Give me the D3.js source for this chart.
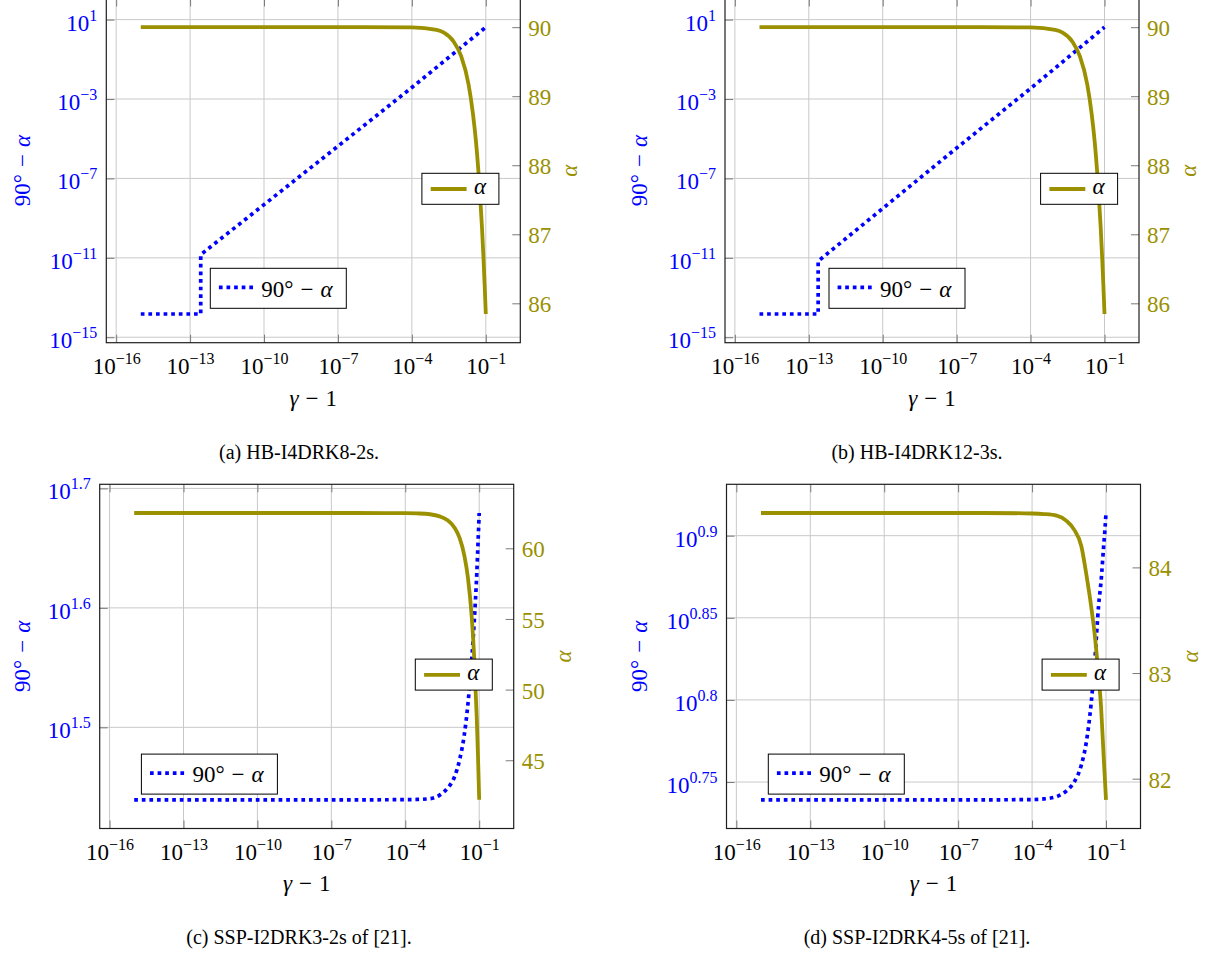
<!DOCTYPE html>
<html>
<head>
<meta charset="utf-8">
<script src="https://cdn.jsdelivr.net/npm/d3@7"></script>
<style>
  body { margin: 0; background: #fff; }
  svg, svg text { font-family: "Liberation Serif", "Times New Roman", serif; }
</style>
</head>
<body>
<svg id="fig" width="1215" height="956"></svg>
<script>
// ---- data -------------------------------------------------------------
// gamma - 1 sample points for the alpha curves of the HB schemes
const gammaAB = [1e-15, 1e-6, 1e-4, 1e-3, 2e-3, 5e-3, 1e-2, 2e-2, 3e-2, 4e-2, 5e-2, 6e-2, 7e-2, 8e-2, 9e-2, 1e-1];
const alphaA  = [90, 90, 89.996, 89.96, 89.92, 89.79, 89.58, 89.17, 88.75, 88.34, 87.92, 87.5, 87.1, 86.68, 86.26, 85.845];
const alphaB  = [90, 90, 89.996, 89.96, 89.92, 89.79, 89.58, 89.17, 88.75, 88.34, 87.92, 87.5, 87.1, 86.68, 86.26, 85.845];

// 90° - alpha for the HB schemes (round-off floor, then a jump)
const devGammaA = [1e-15, 2.7e-13, 2.7e-13, 1e-7, 1e-4, 1e-1];
const devA      = [1.48e-14, 1.48e-14, 1.45e-11, 4.2e-6, 3.8e-3, 4.155];
const devGammaB = [1e-15, 2.4e-13, 2.4e-13, 1e-7, 1e-4, 1e-1];
const devB      = [1.48e-14, 1.48e-14, 6.8e-12, 3.4e-6, 3.4e-3, 4.155];

// gamma - 1 sample points for the SSP schemes
const gammaCD = [1e-15, 1e-6, 1e-4, 3e-4, 1e-3, 2.5e-3, 5e-3, 1e-2, 1.6e-2, 2.5e-2, 3.5e-2, 5e-2, 6.3e-2, 8e-2, 9e-2, 1e-1];
const alphaC  = [62.5, 62.5, 62.49, 62.47, 62.41, 62.26, 62.01, 61.46, 60.73, 59.49, 57.9, 55.1, 52.2, 47.9, 45.1, 42.2];
const devC    = [27.5, 27.5, 27.51, 27.52, 27.56, 27.75, 28.1, 28.75, 29.7, 31.2, 33.1, 36.1, 38.8, 42.6, 45.2, 47.8];
const alphaD  = [84.515, 84.515, 84.51, 84.505, 84.49, 84.44, 84.36, 84.2, 83.93, 83.63, 83.36, 82.97, 82.68, 82.22, 82.0, 81.8];
const devD    = [5.485, 5.485, 5.487, 5.492, 5.51, 5.555, 5.62, 5.76, 5.95, 6.28, 6.66, 7.2, 7.45, 7.82, 8.0, 8.2];

// tick labels
const xTickExps      = ["−16", "−13", "−10", "−7", "−4", "−1"];
const leftTickExpsAB = ["1", "−3", "−7", "−11", "−15"];
const leftTickExpsC  = ["1.5", "1.6", "1.7"];
const leftTickExpsD  = ["0.75", "0.8", "0.85", "0.9"];
const rightTicksAB   = [86, 87, 88, 89, 90];
const rightTicksC    = [45, 50, 55, 60];
const rightTicksD    = [82, 83, 84];

const captions = ["(a) HB-I4DRK8-2s.", "(b) HB-I4DRK12-3s.", "(c) SSP-I2DRK3-2s of [21].", "(d) SSP-I2DRK4-5s of [21]."];

// ---- styling ----------------------------------------------------------
const BLUE = "#0000ff";
const OLIVE = "#9a9000";
const GRID = "#c9c9c9";
const TICK = "#7a7a7a";
const PW = 414, PH = 344.2;
const FS = 23, FS_SUP = 16;
const MATH_GAP = 7;   // space around a binary minus

const svg = d3.select("#fig");

const expValue = s => Math.pow(10, +s.replace("−", "-"));

// pgfplots-style enlargelimits: 10% of the data range on both sides
function padLog(vals) {
  const [lo, hi] = d3.extent(vals.map(Math.log10));
  const p = 0.1 * (hi - lo);
  return [Math.pow(10, lo - p), Math.pow(10, hi + p)];
}
function padLin(vals) {
  const [lo, hi] = d3.extent(vals);
  const p = 0.1 * (hi - lo);
  return [lo - p, hi + p];
}

// writes "10^exp" into a text node
function powerLabel(textSel, exp, baseY) {
  textSel.text(null).attr("y", baseY).attr("dy", null);
  textSel.append("tspan").text("10");
  textSel.append("tspan").attr("dy", -10).attr("font-size", FS_SUP).text(exp);
}

// writes "90° − α"
function devLabel(textSel) {
  textSel.append("tspan").text("90°");
  textSel.append("tspan").attr("dx", MATH_GAP).text("−");
  textSel.append("tspan").attr("dx", MATH_GAP).attr("font-style", "italic").text("α");
}

function drawPanel(cfg) {
  const g = svg.append("g").attr("transform", `translate(${cfg.left},${cfg.top})`);

  const x = d3.scaleLog().domain(padLog(cfg.gammaAlpha.concat(cfg.gammaDev))).range([0, PW]);
  const yL = d3.scaleLog().domain(padLog(cfg.dev)).range([PH, 0]);
  const yR = d3.scaleLinear().domain(padLin(cfg.alpha)).range([PH, 0]);

  const xTickVals = xTickExps.map(expValue);
  const yTickVals = cfg.leftExps.map(expValue);

  // grid
  const grid = g.append("g").attr("stroke", GRID).attr("stroke-width", 1);
  grid.selectAll("line.gx").data(xTickVals).join("line").attr("class", "gx")
    .attr("x1", d => x(d)).attr("x2", d => x(d)).attr("y1", 0).attr("y2", PH);
  grid.selectAll("line.gy").data(yTickVals).join("line").attr("class", "gy")
    .attr("x1", 0).attr("x2", PW).attr("y1", d => yL(d)).attr("y2", d => yL(d));

  // bottom axis with 10^n labels
  const ax = g.append("g").attr("transform", `translate(0,${PH})`)
    .call(d3.axisBottom(x).tickValues(xTickVals).tickSizeInner(-8).tickSizeOuter(0).tickFormat(() => ""));
  ax.selectAll(".tick text").each(function (d, i) {
    d3.select(this).attr("text-anchor", "middle").attr("fill", "#000").attr("font-size", FS);
    powerLabel(d3.select(this), xTickExps[i], 31);
  });
  // top ticks
  const at = g.append("g")
    .call(d3.axisTop(x).tickValues(xTickVals).tickSizeInner(-8).tickSizeOuter(0).tickFormat(() => ""));
  at.selectAll(".tick text").remove();

  // left axis (log)
  const al = g.append("g")
    .call(d3.axisLeft(yL).tickValues(yTickVals).tickSizeInner(-8).tickSizeOuter(0).tickPadding(9).tickFormat(() => ""));
  al.selectAll(".tick text").each(function (d, i) {
    d3.select(this).attr("text-anchor", "end").attr("fill", BLUE).attr("font-size", FS);
    powerLabel(d3.select(this), cfg.leftExps[i], 10.5);
  });

  // right axis (linear)
  const ar = g.append("g").attr("transform", `translate(${PW},0)`)
    .call(d3.axisRight(yR).tickValues(cfg.rightTicks).tickSizeInner(-8).tickSizeOuter(0).tickPadding(8).tickFormat(d3.format("d")));
  ar.selectAll(".tick text").attr("fill", OLIVE).attr("font-size", FS).attr("dy", null).attr("y", 8.5);

  [ax, at, al, ar].forEach(a => {
    a.select(".domain").remove();
    a.attr("font-family", null);
    a.selectAll(".tick line").attr("stroke", TICK).attr("stroke-width", 1);
  });

  // curves
  const devLine = d3.line().x((d, i) => x(cfg.gammaDev[i])).y(d => yL(d)).curve(cfg.devCurve);
  g.append("path").datum(cfg.dev).attr("d", devLine)
    .attr("fill", "none").attr("stroke", BLUE).attr("stroke-width", 3.7)
    .attr("stroke-dasharray", "3.7,3.9").attr("stroke-linecap", "butt");

  const alphaLine = d3.line().x((d, i) => x(cfg.gammaAlpha[i])).y(d => yR(d)).curve(d3.curveMonotoneX);
  g.append("path").datum(cfg.alpha).attr("d", alphaLine)
    .attr("fill", "none").attr("stroke", OLIVE).attr("stroke-width", 3.8);

  // frame
  g.append("rect").attr("x", 0).attr("y", 0).attr("width", PW).attr("height", PH)
    .attr("fill", "none").attr("stroke", "#1e1e1e").attr("stroke-width", 1.2);

  // legend: 90° - alpha
  const lb = g.append("g").attr("transform", `translate(${cfg.devLegendX},269.8)`);
  lb.append("rect").attr("width", 136).attr("height", 40)
    .attr("fill", "#fff").attr("stroke", "#000").attr("stroke-width", 1);
  lb.append("line").attr("x1", 8.6).attr("x2", 44.3).attr("y1", 19).attr("y2", 19)
    .attr("stroke", BLUE).attr("stroke-width", 3.7).attr("stroke-dasharray", "3.7,3.9");
  devLabel(lb.append("text").attr("x", 51).attr("y", 28.4).attr("font-size", FS).attr("fill", "#000"));

  // legend: alpha
  const la = g.append("g").attr("transform", `translate(${PW - 21.4 - 77},174.8)`);
  la.append("rect").attr("width", 77).attr("height", 31)
    .attr("fill", "#fff").attr("stroke", "#000").attr("stroke-width", 1);
  la.append("line").attr("x1", 8.8).attr("x2", 44.7).attr("y1", 15.7).attr("y2", 15.7)
    .attr("stroke", OLIVE).attr("stroke-width", 3.8);
  la.append("text").attr("x", 52).attr("y", 20.5).attr("font-size", FS)
    .attr("font-style", "italic").attr("fill", "#000").text("α");

  // axis labels
  const xl = g.append("text").attr("x", PW / 2).attr("y", PH + 63)
    .attr("text-anchor", "middle").attr("font-size", FS).attr("fill", "#000");
  xl.append("tspan").attr("font-style", "italic").text("γ");
  xl.append("tspan").attr("dx", MATH_GAP).text("−");
  xl.append("tspan").attr("dx", MATH_GAP).text("1");

  const yl = g.append("text").attr("transform", `translate(${cfg.yLabelX},${PH / 2}) rotate(-90)`)
    .attr("text-anchor", "middle").attr("font-size", FS).attr("fill", BLUE);
  devLabel(yl);

  g.append("text").attr("transform", `translate(${PW + 57},${PH / 2}) rotate(-90)`)
    .attr("text-anchor", "middle").attr("font-size", FS).attr("font-style", "italic")
    .attr("fill", OLIVE).text("α");

  // caption, centred under the whole sub-figure (labels included)
  g.append("text").attr("x", cfg.captionX - cfg.left).attr("y", PH + 116)
    .attr("text-anchor", "middle").attr("font-size", 20).attr("fill", "#000").text(cfg.caption);
}

const panels = [
  { left: 106.3, top: -1.5, gammaAlpha: gammaAB, alpha: alphaA, gammaDev: devGammaA, dev: devA,
    devCurve: d3.curveLinear, leftExps: leftTickExpsAB, rightTicks: rightTicksAB,
    devLegendX: 104, yLabelX: -76, captionX: 299, caption: captions[0] },
  { left: 725, top: -1.5, gammaAlpha: gammaAB, alpha: alphaB, gammaDev: devGammaB, dev: devB,
    devCurve: d3.curveLinear, leftExps: leftTickExpsAB, rightTicks: rightTicksAB,
    devLegendX: 104, yLabelX: -78, captionX: 917, caption: captions[1] },
  { left: 99.7, top: 484.3, gammaAlpha: gammaCD, alpha: alphaC, gammaDev: gammaCD, dev: devC,
    devCurve: d3.curveMonotoneX, leftExps: leftTickExpsC, rightTicks: rightTicksC,
    devLegendX: 41.7, yLabelX: -70, captionX: 299, caption: captions[2] },
  { left: 726.5, top: 484.3, gammaAlpha: gammaCD, alpha: alphaD, gammaDev: gammaCD, dev: devD,
    devCurve: d3.curveMonotoneX, leftExps: leftTickExpsD, rightTicks: rightTicksD,
    devLegendX: 41.8, yLabelX: -79.5, captionX: 917, caption: captions[3] }
];

panels.forEach(drawPanel);
</script>
</body>
</html>
